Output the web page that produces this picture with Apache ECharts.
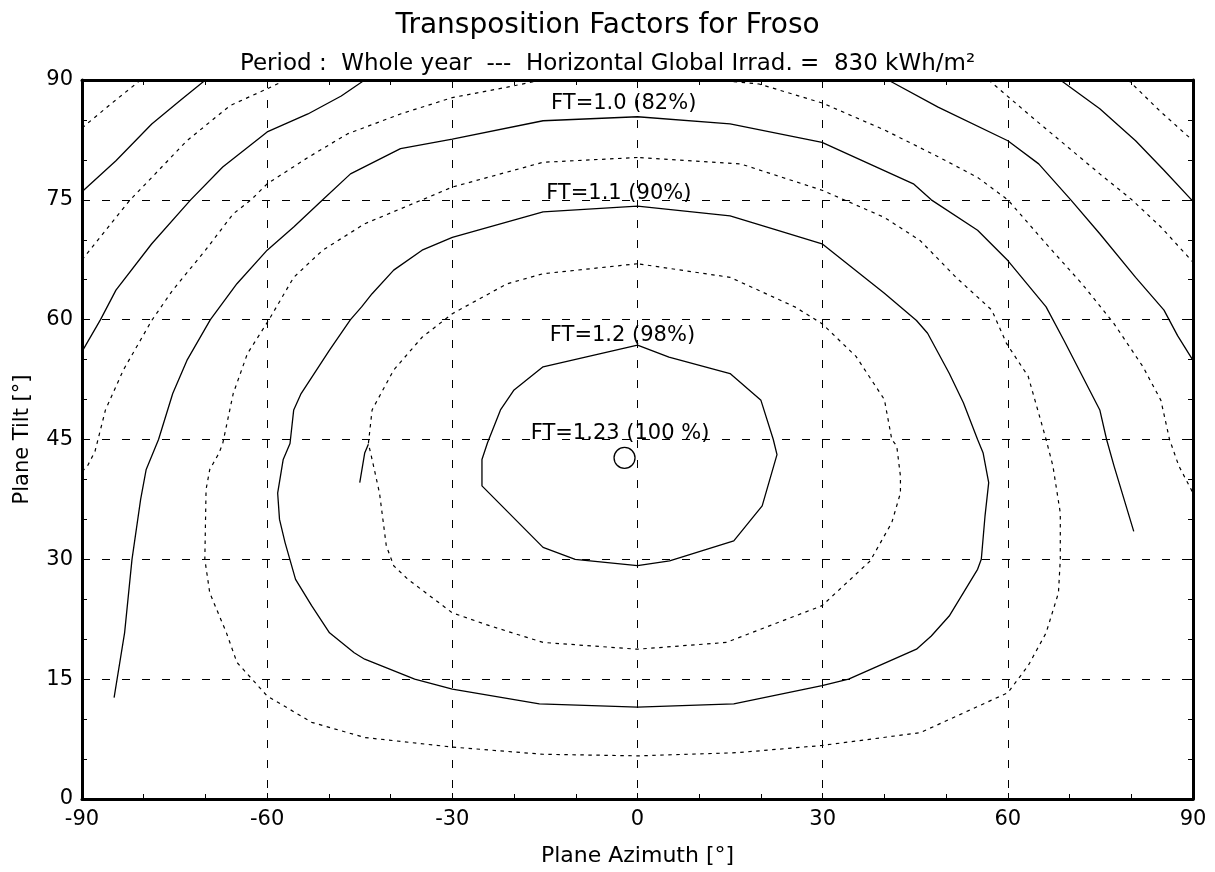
<!DOCTYPE html>
<html>
<head>
<meta charset="utf-8">
<script src="https://cdn.jsdelivr.net/npm/echarts@6/dist/echarts.min.js"></script>
<style>
  html, body { margin: 0; padding: 0; background: #fff; }
  #chart { width: 1215px; height: 872px; }
</style>
</head>
<body>
<div id="chart"></div>
<script>
// Iso-lines of the transposition factor FT, as [plane azimuth (deg), plane tilt (deg)]
const ft075West = [[-90, 84.0], [-85, 87.2], [-80.5, 90]];
const ft075East = [[79.5, 90], [84.8, 86.0], [90, 82.4]];

const ft080West = [[-90, 76.0], [-84.5, 79.9], [-78.7, 84.5], [-74, 87.5], [-70, 90]];
const ft080East = [[68.5, 90], [74.9, 86.4], [80.7, 82.4], [85.3, 78.7], [90, 74.8]];

const ft085West = [[-90, 67.5], [-84.5, 72.8], [-82.2, 75], [-78.7, 77.8], [-73, 82.4], [-66, 86.8], [-60, 88.9], [-57, 90]];
const ft085East = [[56.9, 90], [63.3, 85.75], [69.1, 82.0], [74.9, 78.25], [80.1, 75.0], [84.8, 71.6], [90, 67.2]];

const ft090West = [[-90, 56.0], [-87, 60], [-84.5, 63.7], [-78.7, 69.5], [-72.4, 75], [-67.2, 79.1], [-60, 83.5], [-53.4, 85.75], [-48, 88], [-44.2, 90]];
const ft090East = [[40.6, 90], [48.7, 86.6], [60, 82.4], [65, 79.5], [70.2, 75], [74.9, 70.75], [80.7, 65.3], [85.3, 61.2], [87.5, 58], [90, 54.9]];

const ft095West = [[-90, 41.0], [-89.1, 41.7], [-87.9, 43.5], [-86.2, 48.7], [-83.3, 53.7], [-78.7, 59.9], [-75.3, 63.7], [-70, 68.7],
  [-65.5, 73.25], [-62.6, 75], [-60, 77], [-53.4, 80.3], [-47, 83.25], [-38.4, 85.75], [-30, 87.8], [-21.1, 89.1], [-15.5, 90]];
const ft095East = [[13, 90], [19.7, 89.5], [24, 88.5], [30, 87.1], [40, 83.75], [48.7, 80.4], [55.1, 77.8], [60, 75], [66.2, 69.5],
  [72, 64.5], [77.2, 59.5], [81.9, 54.1], [84.8, 49.9], [86.2, 45], [87.7, 41.7], [90, 38.3]];

const ft100 = [[-84.8, 12.7], [-83.1, 20.8], [-81.9, 30], [-80.5, 37.5], [-79.6, 41.25], [-77.6, 45], [-75.3, 50.75], [-73, 54.9],
  [-69.2, 60], [-64.9, 64.5], [-60, 68.7], [-55.7, 71.6], [-51, 75], [-46.5, 78.25], [-38.4, 81.4], [-30, 82.6], [-15.3, 84.9],
  [0, 85.4], [15, 84.5], [29.9, 82.2], [44.7, 77], [47.6, 75], [55.1, 71.2], [60, 67.4], [66.2, 61.6], [69.1, 57.4],
  [74.9, 48.7], [76, 45], [77.2, 41.7], [80.4, 33.5]];

const ft105 = [[0, 80.3], [-15.3, 79.7], [-30, 76.6], [-34.9, 75], [-44.2, 72], [-51, 68.7], [-55.7, 65.3], [-59.7, 60],
  [-63.2, 55.75], [-65.5, 50.75], [-67.2, 44.5], [-67.8, 43.3], [-69.3, 41.25], [-69.9, 38.75], [-70.1, 30], [-69.3, 25.8],
  [-66.6, 20.8], [-64.9, 17.1], [-60, 12.9], [-52.8, 9.6], [-44.2, 7.7], [-30, 6.5], [-15.3, 5.6], [0, 5.4], [16.2, 5.8],
  [29.9, 6.7], [45.8, 8.3], [60, 13.3], [63.3, 16.7], [66.2, 20.8], [68.2, 25.8], [68.5, 30], [68.5, 35.8], [67.3, 41.7],
  [66.2, 45], [63.3, 52.9], [59.8, 57], [57.4, 61.2], [51.6, 65.3], [45.8, 69.9], [40, 72.8], [29.9, 76.2], [16.7, 79.5], [0, 80.3]];

const ft110 = [[0, 74.2], [-15.3, 73.5], [-30, 70.3], [-34.9, 68.7], [-39.5, 66.2], [-43, 63.25], [-44.7, 61.6], [-46.5, 60],
  [-49.9, 56.2], [-54.5, 50.75], [-55.7, 48.7], [-56.3, 44.5], [-57.4, 42.5], [-58.3, 38.3], [-58, 35], [-57.1, 32.1],
  [-55.4, 27.5], [-52.8, 24.2], [-49.9, 20.8], [-45.9, 18.3], [-44.2, 17.5], [-36.1, 15], [-30, 13.75], [-15.9, 11.9],
  [0, 11.5], [15.6, 11.9], [29.9, 14.2], [34.2, 15], [45.2, 18.75], [47.6, 20.4], [50.5, 22.9], [55.1, 28.75], [55.7, 30],
  [56.3, 35.4], [56.9, 39.6], [56, 43.3], [55.1, 45], [52.8, 49.6], [50.5, 53.3], [47, 58.3], [45.2, 59.9], [40, 63.3],
  [29.9, 69.5], [22.6, 71.2], [15, 73], [0, 74.2]];

const ft115 = [[0, 67], [-15.3, 65.75], [-21.1, 64.5], [-30, 60.75], [-34.9, 57.8], [-39.5, 53.7], [-43, 48.7], [-43.6, 44.5],
  [-43, 42.5], [-41.8, 38.3], [-40.7, 31.7], [-39.5, 29.2], [-37.2, 27.5], [-30, 23.3], [-24, 21.7], [-15.3, 19.6], [0, 18.75],
  [14.4, 19.6], [29.9, 24.2], [37.7, 29.8], [41.2, 34.6], [42.6, 38.3], [42.6, 40.4], [42, 44.2], [41.2, 45], [40, 50],
  [35.4, 55.4], [29.9, 59.5], [25.5, 61.6], [15, 65.3], [0, 67]];
const ft115Stub = [[-45, 39.6], [-44.2, 43.3], [-43.6, 44.4]];

const ft120 = [[0, 56.8], [-15.3, 54.1], [-20, 51.2], [-22.2, 48.7], [-24.3, 44.6], [-25.2, 42.5], [-25.2, 39.2], [-15.3, 31.5],
  [-10.1, 30], [0, 29.2], [5.2, 29.8], [15.6, 32.3], [20.2, 36.7], [22.6, 43.1], [22, 45], [20, 49.9], [15, 53.25],
  [5.1, 55.3], [0, 56.8]];

// Best orientation (FT = 1.23)
const optimum = [[-2.1, 42.7]];

// Contour captions and the point where each one starts
const captionText = ['FT=1.0 (82%)', 'FT=1.1 (90%)', 'FT=1.2 (98%)', 'FT=1.23 (100 %)'];
const captionAnchor = [[-14, 87.0], [-14.8, 75.75], [-14.2, 58.0], [-17.3, 45.7]];

const titleText = 'Transposition Factors for Froso';
const subtitleText = 'Period :  Whole year  ---  Horizontal Global Irrad. =  830 kWh/m\u00b2';

const FONT = 'DejaVu Sans';
const INK = '#000';

function contour(data, dashed) {
  return {
    type: 'line',
    data: data,
    showSymbol: false,
    symbol: 'none',
    smooth: false,
    silent: true,
    animation: false,
    lineStyle: dashed
      ? { color: INK, width: 1.2, type: [3.5, 4.5] }
      : { color: INK, width: 1.3, type: 'solid' },
    z: 3
  };
}

const solidSets = [ft080West, ft080East, ft090West, ft090East, ft100, ft110, ft120, ft115Stub];
const dashedSets = [ft075West, ft075East, ft085West, ft085East, ft095West, ft095East, ft105, ft115];

const series = [];
solidSets.forEach(d => series.push(contour(d, false)));
dashedSets.forEach(d => series.push(contour(d, true)));

series.push({
  type: 'scatter',
  data: optimum,
  symbol: 'circle',
  symbolSize: 21,
  silent: true,
  animation: false,
  itemStyle: { color: 'rgba(0,0,0,0)', borderColor: INK, borderWidth: 1.3, opacity: 1 },
  z: 4
});

series.push({
  type: 'scatter',
  data: captionAnchor.map((p, i) => ({ value: p, name: captionText[i] })),
  symbolSize: 0,
  silent: true,
  animation: false,
  itemStyle: { opacity: 1 },
  label: {
    show: true,
    position: 'right',
    distance: 0,
    formatter: '{b}',
    color: INK,
    opacity: 1,
    fontFamily: FONT,
    fontSize: 21
  },
  z: 5
});

const tickLine = { color: INK, width: 1 };

function xAxisDef(pos, main) {
  return {
    type: 'value', min: -90, max: 90, interval: 30, position: pos,
    axisLine: { show: true, onZero: false, lineStyle: { color: INK, width: 3 } },
    axisTick: { show: true, inside: true, length: 6, lineStyle: tickLine },
    minorTick: { show: true, splitNumber: 3, length: 5, lineStyle: tickLine },
    axisLabel: { show: main, color: INK, fontFamily: FONT, fontSize: 21, margin: 10 },
    splitLine: { show: main, lineStyle: { color: INK, width: 1, type: [8, 12] } },
    name: main ? 'Plane Azimuth [\u00b0]' : '',
    nameLocation: 'middle',
    nameGap: 46,
    nameTextStyle: { color: INK, fontFamily: FONT, fontSize: 22 }
  };
}

function yAxisDef(pos, main) {
  return {
    type: 'value', min: 0, max: 90, interval: 15, position: pos,
    axisLine: { show: true, onZero: false, lineStyle: { color: INK, width: 3 } },
    axisTick: { show: true, inside: true, length: 6, lineStyle: tickLine },
    minorTick: { show: true, splitNumber: 3, length: 5, lineStyle: tickLine },
    axisLabel: { show: main, color: INK, fontFamily: FONT, fontSize: 21, margin: 9 },
    splitLine: { show: main, lineStyle: { color: INK, width: 1, type: [8, 12] } },
    name: main ? 'Plane Tilt [\u00b0]' : '',
    nameLocation: 'middle',
    nameGap: 49,
    nameTextStyle: { color: INK, fontFamily: FONT, fontSize: 21 }
  };
}

const chart = echarts.init(document.getElementById('chart'), null, { renderer: 'canvas' });
chart.setOption({
  backgroundColor: '#fff',
  animation: false,
  grid: { left: 82, right: 22, top: 80, bottom: 70, containLabel: false },
  xAxis: [xAxisDef('bottom', true), xAxisDef('top', false)],
  yAxis: [yAxisDef('left', true), yAxisDef('right', false)],
  graphic: [
    {
      type: 'text', left: 'center', top: 12,
      style: { text: titleText, fill: INK, font: '28px "' + FONT + '"' }
    },
    {
      type: 'text', left: 'center', top: 53,
      style: { text: subtitleText, fill: INK, font: '23px "' + FONT + '"' }
    }
  ],
  series: series
});
</script>
</body>
</html>
